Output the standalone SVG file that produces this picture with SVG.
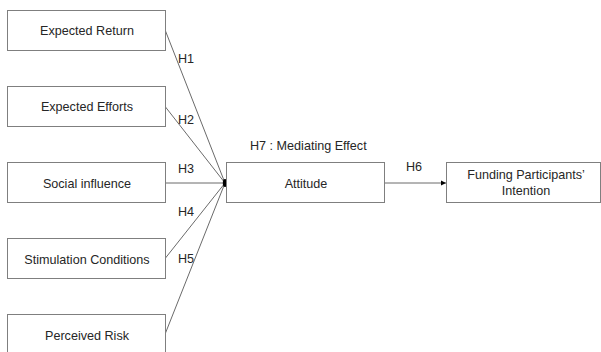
<svg xmlns="http://www.w3.org/2000/svg" width="601" height="352" viewBox="0 0 601 352">
<style>
.box{fill:#fff;stroke:#7f7f7f;stroke-width:1}
.t{font-family:"Liberation Sans",Arial,sans-serif;font-size:12.6px;fill:#262626;text-anchor:middle}
.l{font-family:"Liberation Sans",Arial,sans-serif;font-size:12.6px;fill:#262626}
.c{stroke:#595959;stroke-width:0.9;fill:none}
</style>
<defs>
<marker id="ah" markerWidth="6" markerHeight="6" refX="5" refY="3" orient="auto" markerUnits="userSpaceOnUse">
<path d="M0,0.5 L5,3 L0,5.5 z" fill="#000"/>
</marker>
</defs>
<rect width="601" height="352" fill="#fff"/>
<g id="connectors">
<line class="c" x1="165.5" y1="31" x2="225" y2="183"/>
<line class="c" x1="165.5" y1="107" x2="225" y2="183"/>
<line class="c" x1="165.5" y1="183" x2="225" y2="183"/>
<line class="c" x1="165.5" y1="258" x2="225" y2="183"/>
<line class="c" x1="165.5" y1="333" x2="225" y2="183"/>
<ellipse cx="225" cy="183" rx="2.2" ry="4" fill="#000"/>
<line class="c" x1="384.5" y1="183" x2="446" y2="183" marker-end="url(#ah)"/>
<text class="l" x="178" y="63">H1</text>
<text class="l" x="178" y="124">H2</text>
<text class="l" x="178" y="173">H3</text>
<text class="l" x="178" y="216">H4</text>
<text class="l" x="178" y="263">H5</text>
<text class="l" x="406" y="171">H6</text>
<text class="l" x="250" y="150">H7 : Mediating Effect</text>
</g>
<g id="n1"><rect class="box" x="7.5" y="10.5" width="158" height="40"/><text class="t" x="87" y="35">Expected Return</text></g>
<g id="n2"><rect class="box" x="7.5" y="86.5" width="158" height="40"/><text class="t" x="87" y="111">Expected Efforts</text></g>
<g id="n3"><rect class="box" x="7.5" y="162.5" width="158" height="40"/><text class="t" x="87" y="188">Social influence</text></g>
<g id="n4"><rect class="box" x="7.5" y="238.5" width="158" height="40"/><text class="t" x="87" y="264">Stimulation Conditions</text></g>
<g id="n5"><rect class="box" x="7.5" y="314.5" width="158" height="42"/><text class="t" x="87" y="340">Perceived Risk</text></g>
<g id="attitude"><rect class="box" x="226.5" y="162.5" width="158" height="40"/><text class="t" x="306" y="188">Attitude</text></g>
<g id="funding"><rect class="box" x="446.5" y="162.5" width="154" height="40"/><text class="t" x="526" y="179">Funding Participants’</text><text class="t" x="526" y="195">Intention</text></g>
</svg>
